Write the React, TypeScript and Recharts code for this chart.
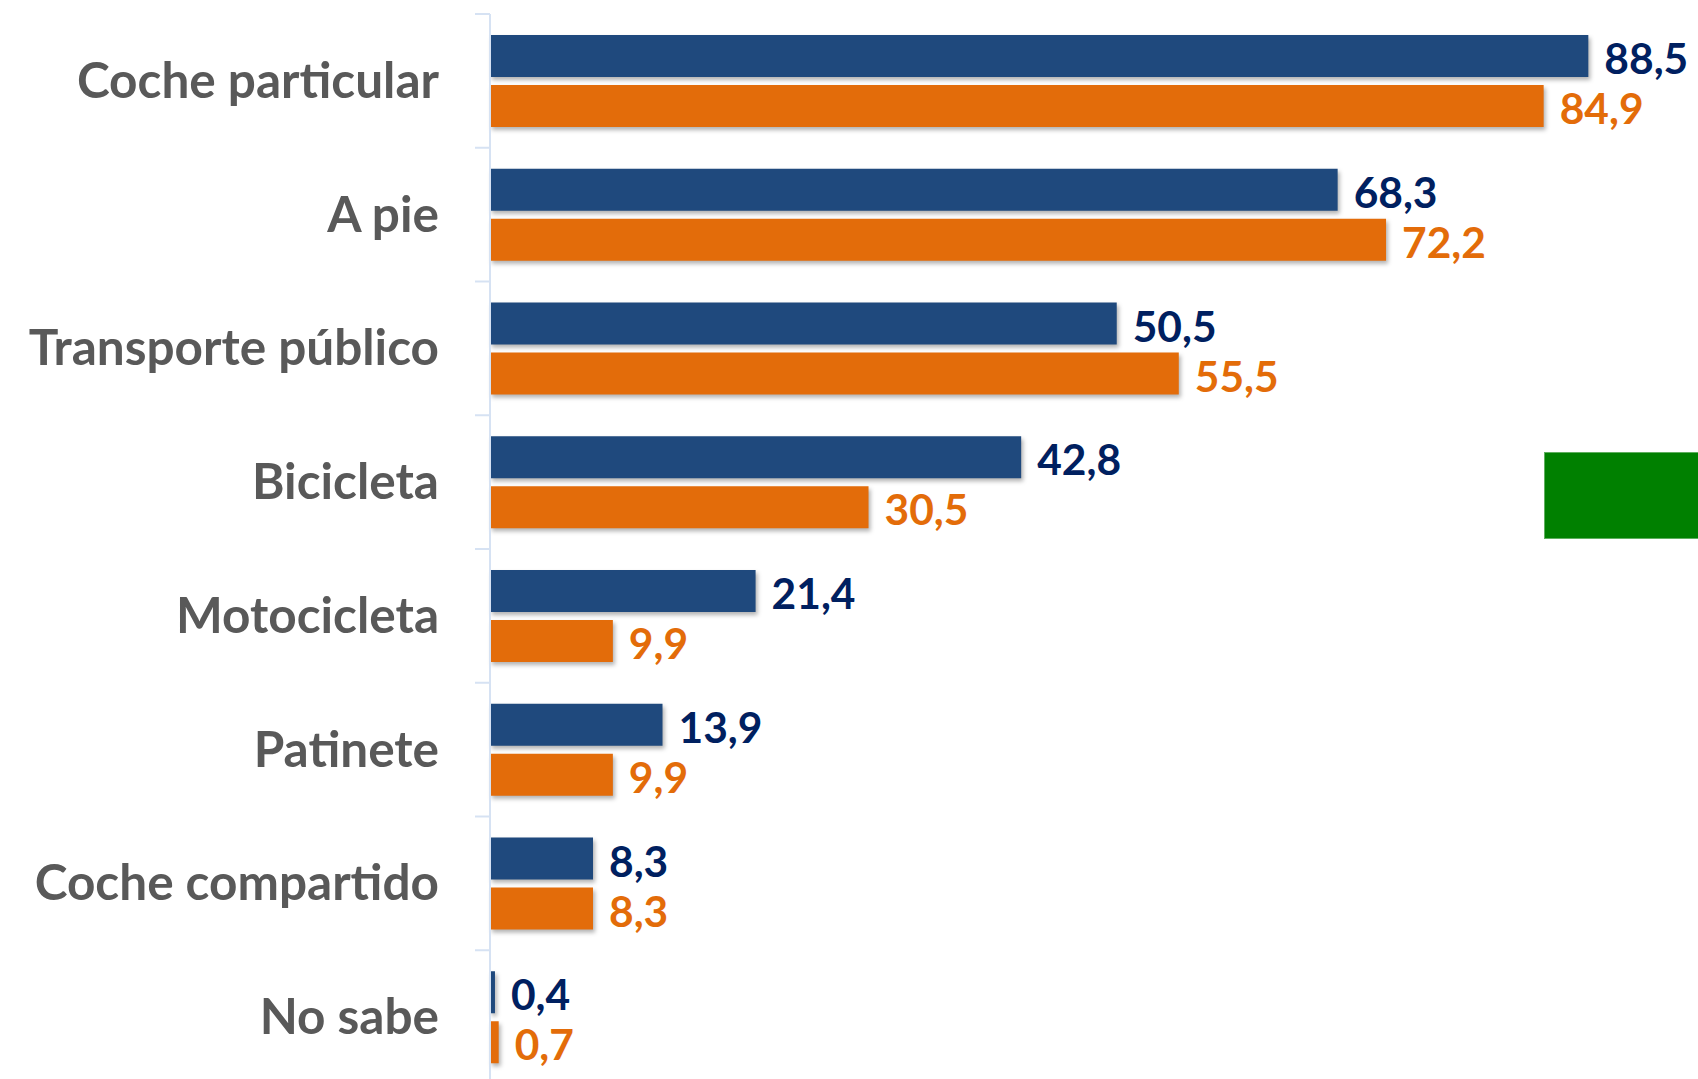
import React from "react";
import { BarChart, Bar, XAxis, YAxis, LabelList } from "recharts";

const categories = [
  "Coche particular",
  "A pie",
  "Transporte público",
  "Bicicleta",
  "Motocicleta",
  "Patinete",
  "Coche compartido",
  "No sabe",
];
const serieAzul = [88.5, 68.3, 50.5, 42.8, 21.4, 13.9, 8.3, 0.4];
const serieNaranja = [84.9, 72.2, 55.5, 30.5, 9.9, 9.9, 8.3, 0.7];

const data = categories.map((name, i) => ({
  name,
  azul: serieAzul[i],
  naranja: serieNaranja[i],
}));

const BAND = 133.75;
const FONT = "Lato, 'Open Sans', sans-serif";

const fmt = (v: any) => String(v).replace(".", ",");

const CategoryTick = (props: any) => {
  const { x, y, payload } = props;
  return (
    <g>
      <line
        x1={x - 15}
        x2={x}
        y1={y - BAND / 2}
        y2={y - BAND / 2}
        stroke="#D6E2F3"
        strokeWidth={2}
      />
      <text
        x={x - 51}
        y={y + 17}
        textAnchor="end"
        fill="#595959"
        fontFamily={FONT}
        fontWeight={700}
        fontSize={49.5}
      >
        {payload.value}
      </text>
    </g>
  );
};

const ShadowBar = (props: any) => {
  const { x, y, width, height, fill } = props;
  return (
    <rect
      x={x}
      y={y}
      width={Math.max(width, 0)}
      height={height}
      fill={fill}
      style={{ filter: "drop-shadow(2px 3px 2px rgba(0,0,0,0.3))" }}
    />
  );
};

const App = () => {
  return (
    <div style={{ position: "absolute", left: 0, top: 0, width: 1698, height: 1079, overflow: "hidden", background: "#fff" }}>
      <BarChart
        width={1698}
        height={1090}
        data={data}
        layout="vertical"
        margin={{ top: 14, right: 29, left: 0, bottom: 6 }}
        barGap={8}
        barSize={42}
      >
        <XAxis type="number" domain={[0, 95]} hide />
        <YAxis
          type="category"
          dataKey="name"
          width={490}
          axisLine={{ stroke: "#D6E2F3", strokeWidth: 2 }}
          tickLine={false}
          tickSize={0}
          tickMargin={0}
          tick={<CategoryTick />}
          interval={0}
        />
        <Bar dataKey="azul" fill="#1F497D" isAnimationActive={false} shape={<ShadowBar />}>
          <LabelList
            dataKey="azul"
            position="right"
            offset={16}
            formatter={fmt}
            fill="#002060"
            fontFamily={FONT}
            fontWeight={700}
            fontSize={42.5}
            dy={3}
          />
        </Bar>
        <Bar dataKey="naranja" fill="#E36C0A" isAnimationActive={false} shape={<ShadowBar />}>
          <LabelList
            dataKey="naranja"
            position="right"
            offset={16}
            formatter={fmt}
            fill="#E36C09"
            fontFamily={FONT}
            fontWeight={700}
            fontSize={42.5}
            dy={3}
          />
        </Bar>
      </BarChart>
      <div
        style={{
          position: "absolute",
          left: 1544,
          top: 452,
          width: 160,
          height: 87,
          background: "#008000",
          border: "1px solid #5FAF5F",
          boxSizing: "border-box",
        }}
      />
    </div>
  );
};

export default App;
